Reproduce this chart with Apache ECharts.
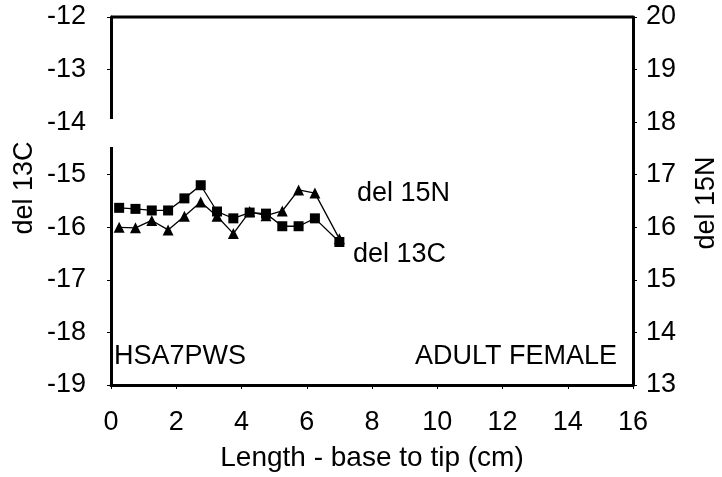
<!DOCTYPE html>
<html><head><meta charset="utf-8">
<script src="https://cdn.jsdelivr.net/npm/echarts@6/dist/echarts.min.js"></script>
<style>html,body{margin:0;padding:0;background:#fff}#c{width:722px;height:477px}</style>
</head><body><div id="c"></div>
<script>
const lengthCm = [0.25,0.75,1.25,1.75,2.25,2.75,3.25,3.75,4.25,4.75,5.25,5.75,6.25,7.0];
const del13C = [-15.63,-15.65,-15.68,-15.68,-15.45,-15.2,-15.7,-15.83,-15.72,-15.74,-15.98,-15.98,-15.83,-16.28];
const del15N = [16.0,15.99,16.13,15.95,16.21,16.48,16.21,15.88,16.3,16.22,16.31,16.71,16.65,15.78];
const xTicks = [0,2,4,6,8,10,12,14,16];
const leftTicks = [-19,-18,-17,-16,-15,-14,-13,-12];
const rightTicks = [13,14,15,16,17,18,19,20];

const chart = echarts.init(document.getElementById('c'));
const font = 'Arial, "Liberation Sans", sans-serif';
const fs = 27;
const axisLine = {show:true, onZero:false, lineStyle:{color:'#000', width:3}};
const tick = {show:true, inside:false, length:4, lineStyle:{color:'#000', width:1}};
chart.setOption({
  animation:false,
  backgroundColor:'#fff',
  grid:{left:111, right:89, top:17, bottom:92},
  xAxis:{type:'value', min:xTicks[0], max:xTicks[xTicks.length-1], interval:2,
    name:'Length - base to tip (cm)', nameLocation:'middle', nameGap:59,
    nameTextStyle:{fontFamily:font, fontSize:28, color:'#000'},
    axisLine:axisLine, axisTick:tick, splitLine:{show:false},
    axisLabel:{fontFamily:font, fontSize:fs, color:'#000', margin:24}},
  yAxis:[
    {type:'value', min:leftTicks[0], max:leftTicks[leftTicks.length-1], interval:1, position:'left',
     axisLine:axisLine, axisTick:tick, splitLine:{show:false},
     axisLabel:{fontFamily:font, fontSize:fs, color:'#000', margin:25}},
    {type:'value', min:rightTicks[0], max:rightTicks[rightTicks.length-1], interval:1, position:'right',
     axisLine:axisLine, axisTick:tick, splitLine:{show:false},
     axisLabel:{fontFamily:font, fontSize:fs, color:'#000', margin:13}}
  ],
  series:[
    {type:'line', name:'del 13C', yAxisIndex:0, data:lengthCm.map((x,i)=>[x,del13C[i]]),
     symbol:'rect', symbolSize:10, itemStyle:{color:'#000'}, lineStyle:{color:'#000', width:1.3}},
    {type:'line', name:'del 15N', yAxisIndex:1, data:lengthCm.map((x,i)=>[x,del15N[i]]),
     symbol:'triangle', symbolSize:11, itemStyle:{color:'#000'}, lineStyle:{color:'#000', width:1.3}}
  ],
  graphic:[
    {type:'line', shape:{x1:111,y1:17,x2:633,y2:17}, style:{stroke:'#000', lineWidth:3}},
    {type:'rect', shape:{x:107,y:119,width:8,height:28}, style:{fill:'#fff'}, z:100},
    {type:'text', x:25, y:188, rotation:Math.PI/2, style:{text:'del 13C', font:fs+'px '+font, fill:'#000', align:'center', verticalAlign:'middle'}},
    {type:'text', x:707, y:203, rotation:Math.PI/2, style:{text:'del 15N', font:fs+'px '+font, fill:'#000', align:'center', verticalAlign:'middle'}},
    {type:'text', x:357, y:194, style:{text:'del 15N', font:fs+'px '+font, fill:'#000', verticalAlign:'middle'}},
    {type:'text', x:353, y:255, style:{text:'del 13C', font:fs+'px '+font, fill:'#000', verticalAlign:'middle'}},
    {type:'text', x:114, y:357, style:{text:'HSA7PWS', font:fs+'px '+font, fill:'#000', verticalAlign:'middle'}},
    {type:'text', x:617, y:357, style:{text:'ADULT FEMALE', font:fs+'px '+font, fill:'#000', align:'right', verticalAlign:'middle'}}
  ]
});
</script></body></html>
